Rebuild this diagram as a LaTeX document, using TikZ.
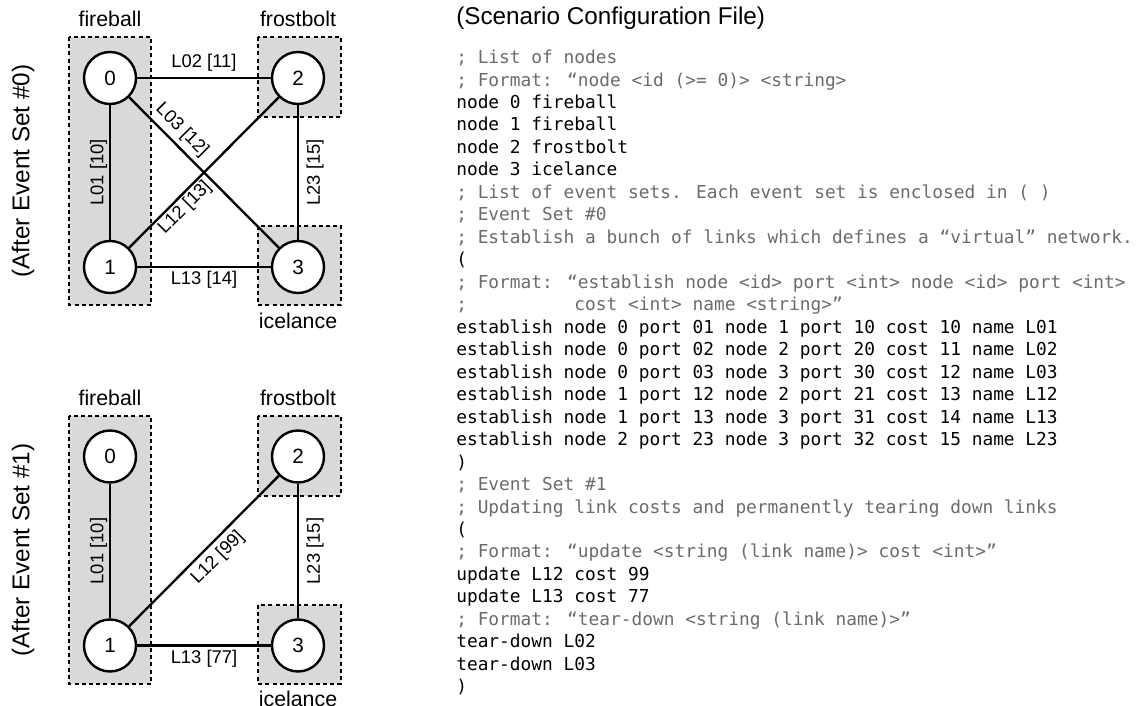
\documentclass[tikz,border=0pt]{standalone}
\usepackage{fontspec}
\setmainfont{Liberation Sans}
\newfontfamily\codefont{DejaVu Sans Mono}
\begin{document}
\begin{tikzpicture}[x=0.75pt,y=-0.75pt,
  grp/.style={draw=black, line width=1.5pt, dash pattern=on 3pt off 2.4pt, fill=gray!30},
  vtx/.style={circle, draw=black, line width=1.8pt, fill=white, minimum size=39pt, inner sep=0pt, font=\fontsize{15.5}{18}\selectfont},
  link/.style={line width=1.75pt},
  lab/.style={font=\fontsize{13.8}{16}\selectfont, inner sep=0pt},
  grplab/.style={font=\fontsize{16}{19}\selectfont, anchor=base, inner sep=0pt},
  side/.style={font=\fontsize{18.2}{21}\selectfont, rotate=90, inner sep=0pt},
  code/.style={anchor=base west, inner sep=0pt, font=\codefont\fontsize{13.38}{16}\selectfont},
  cmt/.style={code, text=black!58}]
\useasboundingbox (0,0) rectangle (1136,706);

% ---------- diagram 1 ----------
\draw[grp] (69,37) rectangle (151,305);
\draw[grp] (258,37) rectangle (341,117);
\draw[grp] (258,226) rectangle (341,305);
\node[grplab] (g1a) at (110,26.5) {fireball};
\node[grplab] (g1b) at (298,26.5) {frostbolt};
\node[grplab] (g1c) at (298,328) {icelance};
\node[side] (s1) at (23,171) {(After Event Set \#0)};

\node[vtx] (n0) at (110,78) {0};
\node[vtx] (n2) at (298,78) {2};
\node[vtx] (n1) at (110,267) {1};
\node[vtx] (n3) at (298,267) {3};

\draw[link] (n0) -- node[lab, yshift=11.25pt] {L02 [11]} (n2);
\draw[link] (n1) -- node[lab, yshift=-9.75pt] {L13 [14]} (n3);
\draw[link] (n1) -- node[lab, sloped, yshift=8.6pt] {L01 [10]} (n0);
\draw[link] (n3) -- node[lab, sloped, yshift=-12.75pt] {L23 [15]} (n2);
\draw[link] (n0) -- node[lab, sloped, pos=0.285, yshift=10.7pt] {L03 [12]} (n3);
\draw[link] (n1) -- node[lab, sloped, pos=0.318, yshift=-8.7pt] {L12 [13]} (n2);

% ---------- diagram 2 ----------
\draw[grp] (69,415.5) rectangle (151,683.5);
\draw[grp] (258,415.5) rectangle (341,495.5);
\draw[grp] (258,604.5) rectangle (341,683.5);
\node[grplab] (g2a) at (110,405) {fireball};
\node[grplab] (g2b) at (298,405) {frostbolt};
\node[grplab] (g2c) at (298,706.5) {icelance};
\node[side] (s2) at (23,550) {(After Event Set \#1)};

\node[vtx] (m0) at (110,456.5) {0};
\node[vtx] (m2) at (298,456.5) {2};
\node[vtx] (m1) at (110,645.5) {1};
\node[vtx] (m3) at (298,645.5) {3};

\draw[link] (m1) -- node[lab, yshift=-9.75pt] {L13 [77]} (m3);
\draw[link] (m1) -- node[lab, sloped, yshift=8.6pt] {L01 [10]} (m0);
\draw[link] (m3) -- node[lab, sloped, yshift=-12.75pt] {L23 [15]} (m2);
\draw[link] (m1) -- node[lab, sloped, pos=0.524, yshift=-11pt] {L12 [99]} (m2);

% ---------- configuration file ----------
\node[anchor=base west, inner sep=0pt, font=\fontsize{18.2}{21}\selectfont] (title) at (456,25) {(Scenario Configuration File)};
\node[cmt]  (c1)  at (456,63.6)  {; List of nodes};
\node[cmt]  (c2)  at (456,86.1)  {; Format: “node <id (>= 0)> <string>};
\node[code] (c3)  at (456,108.5) {node 0 fireball};
\node[code] (c4)  at (456,131.0) {node 1 fireball};
\node[code] (c5)  at (456,153.5) {node 2 frostbolt};
\node[code] (c6)  at (456,176.0) {node 3 icelance};
\node[cmt]  (c7)  at (456,198.4) {; List of event sets. Each event set is enclosed in ( )};
\node[cmt]  (c8)  at (456,220.9) {; Event Set \#0};
\node[cmt]  (c9)  at (456,243.4) {; Establish a bunch of links which defines a “virtual” network.};
\node[code] (c10) at (456,265.8) {(};
\node[cmt]  (c11) at (456,288.3) {; Format: “establish node <id> port <int> node <id> port <int>};
\node[cmt]  (c12) at (456,310.8) {;\ \ \ \ \ \ \ \ \ \ cost <int> name <string>”};
\node[code] (c13) at (456,333.2) {establish node 0 port 01 node 1 port 10 cost 10 name L01};
\node[code] (c14) at (456,355.7) {establish node 0 port 02 node 2 port 20 cost 11 name L02};
\node[code] (c15) at (456,378.2) {establish node 0 port 03 node 3 port 30 cost 12 name L03};
\node[code] (c16) at (456,400.7) {establish node 1 port 12 node 2 port 21 cost 13 name L12};
\node[code] (c17) at (456,423.1) {establish node 1 port 13 node 3 port 31 cost 14 name L13};
\node[code] (c18) at (456,445.6) {establish node 2 port 23 node 3 port 32 cost 15 name L23};
\node[code] (c19) at (456,468.1) {)};
\node[cmt]  (c20) at (456,490.5) {; Event Set \#1};
\node[cmt]  (c21) at (456,513.0) {; Updating link costs and permanently tearing down links};
\node[code] (c22) at (456,535.5) {(};
\node[cmt]  (c23) at (456,557.9) {; Format: “update <string (link name)> cost <int>”};
\node[code] (c24) at (456,580.4) {update L12 cost 99};
\node[code] (c25) at (456,602.9) {update L13 cost 77};
\node[cmt]  (c26) at (456,625.3) {; Format: “tear-down <string (link name)>”};
\node[code] (c27) at (456,647.8) {tear-down L02};
\node[code] (c28) at (456,670.3) {tear-down L03};
\node[code] (c29) at (456,692.8) {)};
\end{tikzpicture}
\end{document}
